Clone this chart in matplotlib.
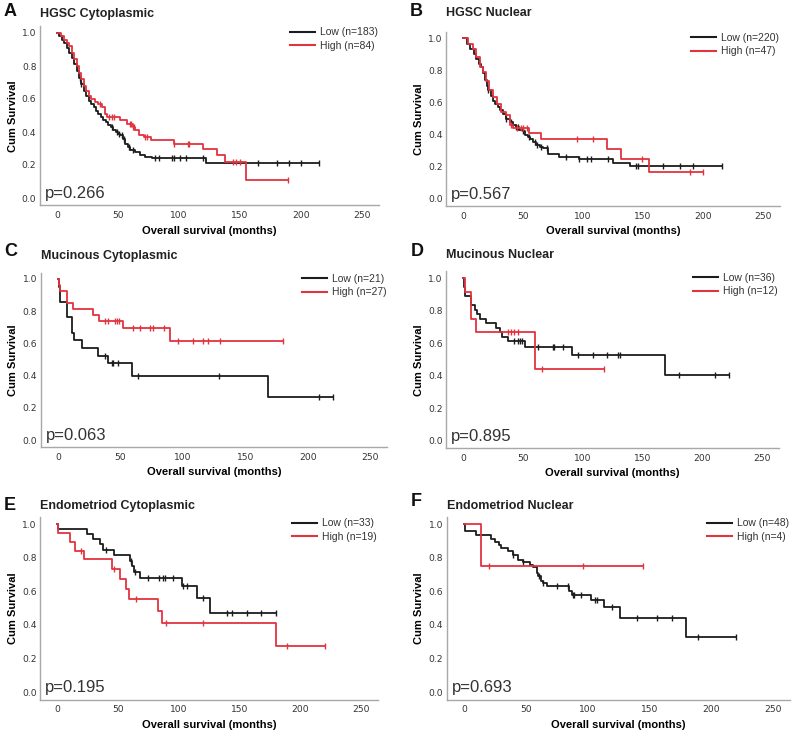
import numpy as np
import matplotlib.pyplot as plt

plt.rcParams['font.family'] = ['Liberation Sans', 'DejaVu Sans']

# ---- data: step times (months), survival after step, censor times ----
# A  HGSC cytoplasmic
a_low_t = [2, 4, 6, 8, 10, 12, 14, 16, 18, 20, 22, 24, 26, 28, 30, 32, 34, 36, 38, 40, 42, 44,
           46, 48, 50, 52, 54, 56, 58, 60, 64, 68, 72, 78, 122]
a_low_s = [0.98, 0.96, 0.94, 0.91, 0.88, 0.85, 0.81, 0.77, 0.73, 0.69, 0.65, 0.62, 0.59, 0.57,
           0.55, 0.53, 0.51, 0.49, 0.47, 0.46, 0.44, 0.43, 0.41, 0.40, 0.39, 0.38, 0.36, 0.33,
           0.31, 0.29, 0.28, 0.26, 0.25, 0.24, 0.21]
a_low_c = [19, 20, 45, 49, 51, 53, 55, 59, 62, 80, 84, 94, 96, 101, 106, 120, 165, 180, 190, 200, 215]
a_high_t = [3, 6, 8, 10, 12, 14, 16, 18, 20, 22, 24, 26, 28, 31, 34, 37, 39, 41, 52, 57, 62, 64,
            67, 71, 77, 96, 120, 131, 138, 155]
a_high_s = [0.98, 0.96, 0.94, 0.92, 0.88, 0.84, 0.80, 0.76, 0.72, 0.68, 0.65, 0.62, 0.60, 0.58,
            0.57, 0.55, 0.51, 0.49, 0.47, 0.45, 0.43, 0.41, 0.38, 0.37, 0.35, 0.33, 0.30, 0.26,
            0.22, 0.11]
a_high_c = [35, 43, 45, 47, 60, 61, 62, 63, 72, 74, 96, 107, 108, 144, 147, 150, 189]

# B  HGSC nuclear
b_low_t = [3, 6, 9, 11, 13, 15, 17, 18, 20, 21, 23, 25, 27, 29, 31, 33, 36, 39, 42, 44, 47, 50,
           52, 54, 56, 58, 61, 64, 67, 71, 80, 97, 125, 139]
b_low_s = [0.96, 0.93, 0.90, 0.87, 0.84, 0.82, 0.78, 0.74, 0.70, 0.675, 0.64, 0.61, 0.59, 0.57,
           0.55, 0.53, 0.50, 0.48, 0.46, 0.45, 0.43, 0.42, 0.40, 0.385, 0.37, 0.355, 0.335,
           0.325, 0.315, 0.28, 0.26, 0.25, 0.225, 0.205]
b_low_c = [21, 36, 40, 44, 46, 50, 55, 60, 62, 65, 70, 86, 97, 103, 107, 121, 144, 146, 167, 181, 192, 216]
b_high_t = [4, 8, 11, 14, 17, 19, 22, 25, 28, 32, 36, 39, 42, 55, 65, 120, 132, 155]
b_high_s = [0.965, 0.93, 0.88, 0.82, 0.79, 0.73, 0.675, 0.635, 0.59, 0.54, 0.52, 0.46, 0.44,
            0.41, 0.37, 0.31, 0.25, 0.17]
b_high_c = [40, 45, 48, 50, 53, 95, 108, 149, 189, 200]

# C  Mucinous cytoplasmic
c_low_t = [1, 2, 7, 11, 13, 19, 32, 40, 59, 168]
c_low_s = [0.952, 0.857, 0.762, 0.667, 0.619, 0.571, 0.524, 0.476, 0.397, 0.265]
c_low_c = [38, 43, 44, 48, 64, 129, 209, 220]
c_high_t = [1, 2, 7, 12, 28, 33, 52, 90]
c_high_s = [0.963, 0.926, 0.852, 0.815, 0.778, 0.741, 0.695, 0.618]
c_high_c = [38, 40, 46, 47, 49, 60, 66, 74, 76, 85, 96, 108, 116, 120, 130, 180]

# D  Mucinous nuclear
d_low_t = [1, 2, 7, 10, 12, 14, 19, 28, 31, 33, 38, 52, 91, 169]
d_low_s = [0.944, 0.889, 0.833, 0.806, 0.778, 0.75, 0.722, 0.694, 0.667, 0.639, 0.611, 0.577,
           0.529, 0.403]
d_low_c = [43, 46, 48, 49, 63, 75, 76, 84, 96, 109, 120, 130, 131, 181, 211, 222]
d_high_t = [2, 7, 11, 60]
d_high_s = [0.917, 0.75, 0.667, 0.444]
d_high_c = [38, 40, 43, 46, 66, 118]

# E  Endometrioid cytoplasmic
e_low_t = [1, 25, 30, 35, 38, 47, 60, 62, 63, 68, 103, 115, 126]
e_low_s = [0.970, 0.939, 0.909, 0.879, 0.848, 0.816, 0.782, 0.748, 0.714, 0.680, 0.632, 0.562, 0.468]
e_low_c = [40, 61, 64, 75, 84, 87, 89, 95, 104, 107, 120, 140, 144, 156, 168, 180]
e_high_t = [1, 11, 15, 22, 45, 52, 57, 59, 83, 86, 180]
e_high_s = [0.947, 0.895, 0.842, 0.789, 0.734, 0.673, 0.612, 0.551, 0.482, 0.413, 0.275]
e_high_c = [20, 47, 65, 90, 120, 189, 220]

# F  Endometrioid nuclear
f_low_t = [1, 10, 22, 25, 28, 30, 36, 40, 44, 48, 53, 56, 59, 60, 62, 64, 67, 85, 87, 103, 113, 126, 180]
f_low_s = [0.958, 0.937, 0.91, 0.89, 0.877, 0.857, 0.837, 0.817, 0.788, 0.772, 0.758, 0.744,
           0.708, 0.689, 0.659, 0.649, 0.629, 0.60, 0.577, 0.55, 0.506, 0.44, 0.33]
f_low_c = [40, 48, 61, 64, 75, 84, 88, 89, 95, 106, 108, 120, 140, 156, 168, 189, 220]
f_high_t = [14]
f_high_s = [0.75]
f_high_c = [20, 96, 145]

letters = ['A', 'B', 'C', 'D', 'E', 'F']
titles = ['HGSC Cytoplasmic', 'HGSC Nuclear', 'Mucinous Cytoplasmic', 'Mucinous Nuclear',
          'Endometriod Cytoplasmic', 'Endometriod Nuclear']
n_low = [183, 220, 21, 36, 33, 48]
n_high = [84, 47, 27, 12, 19, 4]
pvals = ['0.266', '0.567', '0.063', '0.895', '0.195', '0.693']
curves = [
    (a_low_t, a_low_s, a_low_c, a_high_t, a_high_s, a_high_c),
    (b_low_t, b_low_s, b_low_c, b_high_t, b_high_s, b_high_c),
    (c_low_t, c_low_s, c_low_c, c_high_t, c_high_s, c_high_c),
    (d_low_t, d_low_s, d_low_c, d_high_t, d_high_s, d_high_c),
    (e_low_t, e_low_s, e_low_c, e_high_t, e_high_s, e_high_c),
    (f_low_t, f_low_s, f_low_c, f_high_t, f_high_s, f_high_c),
]

# ---- layout (pixels): x of month 0, x of month 250, y of 1.0, y of 0.0, title y, letter y ----
W, H = 794, 735
layout = [
    (57, 362, 33, 198, 14, 11),
    (463, 763, 38, 199, 13, 12),
    (58, 370, 279, 440, 256, 252),
    (463, 762, 278, 441, 255, 252),
    (57, 361, 524, 692, 506, 505),
    (464, 773, 524, 692, 506, 501),
]
XLIM = (-14, 264)
YLIM = (-0.045, 1.04)
BLACK = '#1c1c1c'
RED = '#e2343f'


def km(ax, t, s, cens, color):
    t = np.asarray(t, float)
    s = np.asarray(s, float)
    end = max(t.max(), max(cens))
    x = np.concatenate([[0], t, [end]])
    y = np.concatenate([[1.0], s, [s[-1]]])
    ax.step(x, y, where='post', color=color, lw=1.3)
    idx = np.searchsorted(t, cens, side='right')
    yc = np.concatenate([[1.0], s])[idx]
    ax.plot(cens, yc, ls='none', marker='|', ms=4, mew=1.0, color=color)


fig = plt.figure(figsize=(W / 100, H / 100), dpi=100)

for i in range(6):
    x0, x250, y1, y0, ty, ly = layout[i]
    sx = (x250 - x0) / 250.0
    sy = (y0 - y1)
    L = x0 + XLIM[0] * sx
    R = x0 + XLIM[1] * sx
    T = y0 - YLIM[1] * sy
    B = y0 - YLIM[0] * sy
    ax = fig.add_axes([L / W, 1 - B / H, (R - L) / W, (B - T) / H])

    lt, ls_, lc, ht, hs, hc = curves[i]
    km(ax, lt, ls_, lc, BLACK)
    km(ax, ht, hs, hc, RED)

    ax.set_xlim(*XLIM)
    ax.set_ylim(*YLIM)
    ax.set_xticks(np.arange(0, 251, 50))
    ax.set_yticks(np.arange(0, 1.01, 0.2))
    ax.set_yticklabels(['%.1f' % v for v in np.arange(0, 1.01, 0.2)])
    ax.tick_params(axis='x', length=0, labelsize=6.6, colors='#333333', pad=4)
    ax.tick_params(axis='y', length=0, labelsize=6.6, colors='#333333', pad=2.5)
    for lab in ax.get_xticklabels() + ax.get_yticklabels():
        lab.set_family('DejaVu Sans')
    for sp in ['top', 'right']:
        ax.spines[sp].set_visible(False)
    for sp in ['left', 'bottom']:
        ax.spines[sp].set_color('#a8a8a8')
        ax.spines[sp].set_linewidth(1.0)

    ax.set_xlabel('Overall survival (months)', fontsize=8, fontweight='bold', labelpad=4)
    ax.set_ylabel('Cum Survival', fontsize=8, fontweight='bold', labelpad=3)

    ax.plot([], [], color=BLACK, lw=1.5, label='Low (n=%d)' % n_low[i])
    ax.plot([], [], color=RED, lw=1.5, label='High (n=%d)' % n_high[i])
    h, lab = ax.get_legend_handles_labels()
    ax.legend(h[-2:], lab[-2:], loc='upper right', bbox_to_anchor=(1.0, 1.0), frameon=False,
              fontsize=7.5, handlelength=2.4, handletextpad=0.5, borderaxespad=0,
              borderpad=0.1, labelspacing=0.35, labelcolor='#333333')

    ax.text(0.015, (0.0 - YLIM[0]) / (YLIM[1] - YLIM[0]), 'p=' + pvals[i], transform=ax.transAxes,
            fontsize=12, va='baseline', ha='left', color='#333333')

    fig.text(L / W, 1 - ty / H, titles[i], fontsize=9, fontweight='bold', va='center', ha='left',
             color='#222222')
    fig.text((L - 36) / W, 1 - ly / H, letters[i], fontsize=13, fontweight='bold', va='center',
             ha='left', color='#111111')

fig.savefig('out.png', dpi=100)
